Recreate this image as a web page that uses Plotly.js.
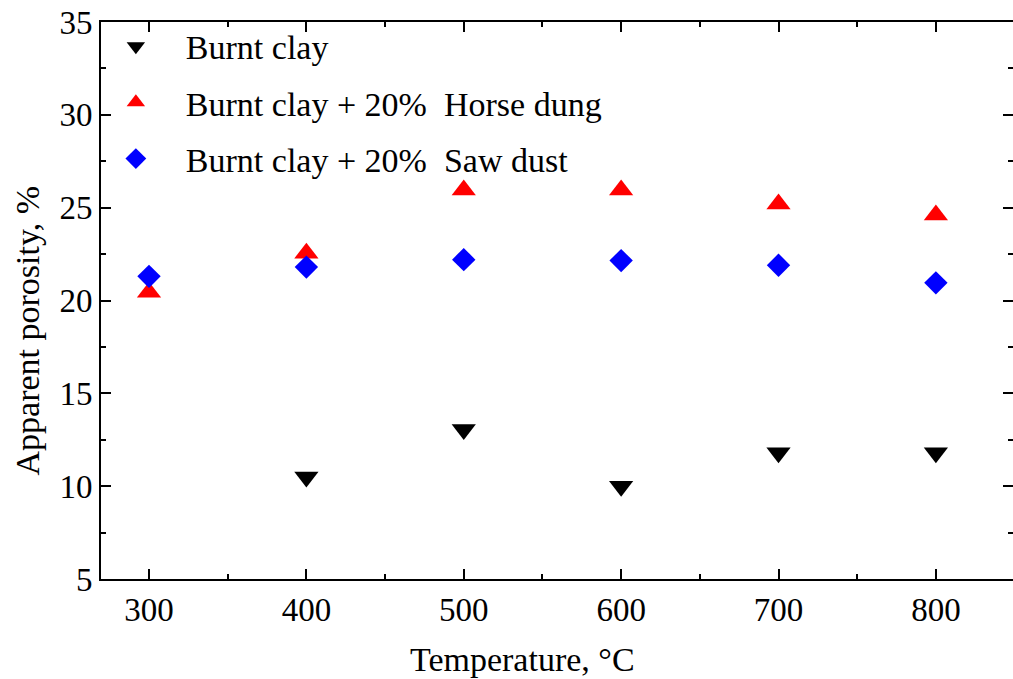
<!DOCTYPE html>
<html>
<head>
<meta charset="utf-8">
<script src="https://cdn.plot.ly/plotly-3.0.1.min.js"></script>
<style>
  html, body { margin: 0; padding: 0; background: #ffffff; }
  #chart { width: 1013px; height: 679px; }
</style>
</head>
<body>
<div id="chart"></div>
<script>
// Firing temperature, °C
const temperature = [300, 400, 500, 600, 700, 800];

// Apparent porosity, %
const burntClayTemps = [400, 500, 600, 700, 800];
const burntClay = [10.5, 13.05, 10.0, 11.8, 11.8];
const horseDung = [20.45, 22.55, 25.95, 25.95, 25.2, 24.6];
const sawDust = [21.3, 21.8, 22.2, 22.15, 21.9, 20.95];

const seriesNames = [
  'Burnt clay',
  'Burnt clay + 20%  Horse dung',
  'Burnt clay + 20%  Saw dust'
];

const xTickVals = [300, 400, 500, 600, 700, 800];
const yTickVals = [5, 10, 15, 20, 25, 30, 35];

const FONT = 'Liberation Serif, Times New Roman, serif';

const traces = [
  {
    x: burntClayTemps, y: burntClay, name: seriesNames[0],
    type: 'scatter', mode: 'markers', legendgroup: 'g1',
    marker: { symbol: 'triangle-down', size: 21, color: '#000000', line: { width: 0 } }
  },
  {
    x: temperature, y: horseDung, name: seriesNames[1],
    type: 'scatter', mode: 'markers', legendgroup: 'g2',
    marker: { symbol: 'triangle-up', size: 21, color: '#ff0000', line: { width: 0 } }
  },
  {
    x: temperature, y: sawDust, name: seriesNames[2],
    type: 'scatter', mode: 'markers', legendgroup: 'g3',
    marker: { symbol: 'diamond', size: 18, color: '#0000ff', line: { width: 0 } }
  }
];

const axisCommon = {
  showline: true, linecolor: '#000000', linewidth: 2,
  mirror: 'allticks', ticks: 'inside', ticklen: 10, tickwidth: 2, tickcolor: '#000000',
  showgrid: false, zeroline: false,
  tickfont: { family: FONT, size: 33, color: '#000000' }
};

const layout = {
  width: 1013, height: 679,
  margin: { l: 101, r: 0, t: 22, b: 100 },
  paper_bgcolor: '#ffffff', plot_bgcolor: '#ffffff',
  font: { family: FONT, color: '#000000' },
  showlegend: true,
  legend: {
    x: -0.0166, y: 1.008, xanchor: 'left', yanchor: 'top',
    bgcolor: 'rgba(0,0,0,0)', borderwidth: 0,
    font: { family: FONT, size: 34, color: '#000000' },
    traceorder: 'grouped', tracegroupgap: 9, itemwidth: 90
  },
  xaxis: Object.assign({}, axisCommon, {
    range: [269.5, 849], tickvals: xTickVals, ticktext: xTickVals.map(String),
    minor: { dtick: 50, tick0: 250, ticks: 'inside', ticklen: 5, tickwidth: 2, tickcolor: '#000000', showgrid: false }
  }),
  yaxis: Object.assign({}, axisCommon, {
    range: [5, 35], tickvals: yTickVals, ticktext: yTickVals.map(String),
    minor: { dtick: 2.5, tick0: 2.5, ticks: 'inside', ticklen: 5, tickwidth: 2, tickcolor: '#000000', showgrid: false }
  }),
  annotations: [
    {
      text: 'Temperature, °C', xref: 'paper', yref: 'paper',
      x: 0.4627, y: -0.1454, xanchor: 'center', yanchor: 'middle',
      showarrow: false, font: { family: FONT, size: 34, color: '#000000' }
    },
    {
      text: 'Apparent porosity, %', xref: 'paper', yref: 'paper',
      x: -0.0806, y: 0.447, xanchor: 'center', yanchor: 'middle', textangle: -90,
      showarrow: false, font: { family: FONT, size: 34, color: '#000000' }
    }
  ]
};

Plotly.newPlot('chart', traces, layout, { displayModeBar: false, staticPlot: true });
</script>
</body>
</html>
